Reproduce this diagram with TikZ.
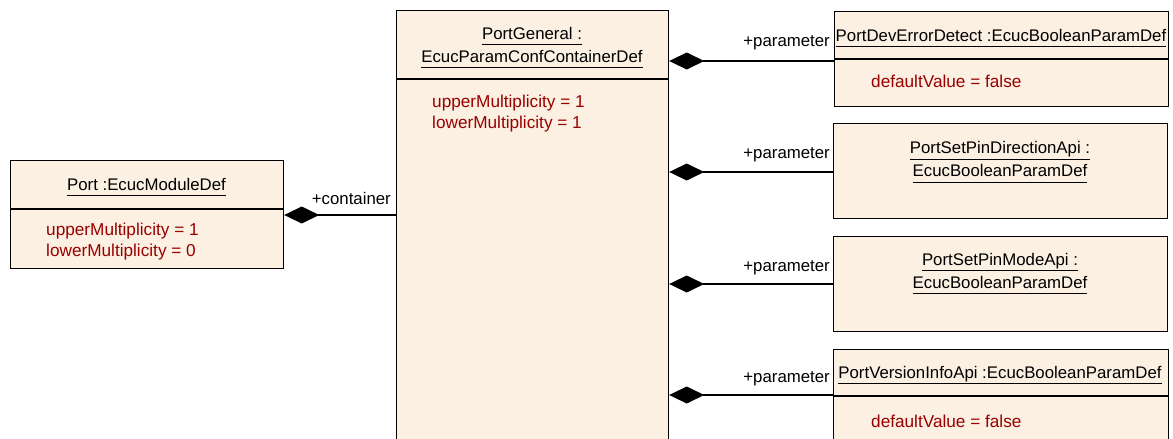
\documentclass[tikz,border=0pt]{standalone}
\usepackage{fontspec}
\setmainfont{Liberation Sans}
\usetikzlibrary{arrows.meta, positioning}
\definecolor{classfill}{RGB}{251,240,226}
\definecolor{attrred}{RGB}{153,0,0}
\newcommand\uname[1]{\underline{#1\vphantom{p}}}

\begin{document}
\begin{tikzpicture}[x=1pt, y=-1pt,
  box/.style={draw, line width=1.2pt, fill=classfill, anchor=north west, inner sep=0pt},
  ttl/.style={font=\fontsize{16.8}{23}\selectfont, align=center, inner sep=0pt},
  attr/.style={font=\fontsize{17.2}{21}\selectfont, text=attrred, align=left, anchor=west, inner sep=0pt},
  role/.style={font=\fontsize{16.8}{20}\selectfont, anchor=east, inner sep=0pt},
  compo/.style={line width=1.2pt, {Diamond[length=35pt,width=17pt]}-}]

\useasboundingbox (0,0) rectangle (1173,439);

\node[box, minimum width=273pt, minimum height=108pt] (port) at (10,160) {};
\node[box, minimum width=272pt, minimum height=440pt] (pg) at (396,10) {};
\node[box, minimum width=334pt, minimum height=95pt] (p1) at (834,11) {};
\node[box, minimum width=334pt, minimum height=95pt] (p2) at (833,123) {};
\node[box, minimum width=334pt, minimum height=95pt] (p3) at (833,236) {};
\node[box, minimum width=335pt, minimum height=100pt] (p4) at (833,349) {};

\draw[line width=1.2pt] (port.west |- 0,209) -- (port.east |- 0,209);
\draw[line width=1.2pt] (pg.west |- 0,79) -- (pg.east |- 0,79);
\draw[line width=1.2pt] (p1.west |- 0,59) -- (p1.east |- 0,59);
\draw[line width=1.2pt] (p4.west |- 0,396) -- (p4.east |- 0,396);

\node[ttl] (port-t) at (146.5,187) {\uname{Port :EcucModuleDef}};
\node[ttl] (pg-t) at (532,47.5) {\uname{PortGeneral :}\\\uname{EcucParamConfContainerDef}};
\node[ttl] (p1-t) at (1001,38) {\uname{PortDevErrorDetect :EcucBooleanParamDef}};
\node[ttl] (p2-t) at (1000,162) {\uname{PortSetPinDirectionApi :}\\\uname{EcucBooleanParamDef}};
\node[ttl] (p3-t) at (1000,273.5) {\uname{PortSetPinModeApi :}\\\uname{EcucBooleanParamDef}};
\node[ttl] (p4-t) at (1000,375) {\uname{PortVersionInfoApi :EcucBooleanParamDef}};

\node[attr] (port-a) at (46,241.5) {upperMultiplicity = 1\\lowerMultiplicity = 0};
\node[attr] (pg-a) at (432,113.5) {upperMultiplicity = 1\\lowerMultiplicity = 1};
\node[attr] (p1-a) at (871,81) {defaultValue = false};
\node[attr] (p4-a) at (871,421) {defaultValue = false};

\coordinate (c0) at (port.east |- 0,215);
\coordinate (c1) at (pg.east |- 0,61);
\coordinate (c2) at (pg.east |- 0,172);
\coordinate (c3) at (pg.east |- 0,284);
\coordinate (c4) at (pg.east |- 0,395);

\draw[compo] (c0) -- (pg.west |- c0);
\draw[compo] (c1) -- (p1.west |- c1);
\draw[compo] (c2) -- (p2.west |- c2);
\draw[compo] (c3) -- (p3.west |- c3);
\draw[compo] (c4) -- (p4.west |- c4);

\node[role] (r0) at (391,198) {+container};
\node[role] (r1) at (830,43) {+parameter};
\node[role] (r2) at (830,155) {+parameter};
\node[role] (r3) at (830,268) {+parameter};
\node[role] (r4) at (830,379) {+parameter};

\end{tikzpicture}
\end{document}
